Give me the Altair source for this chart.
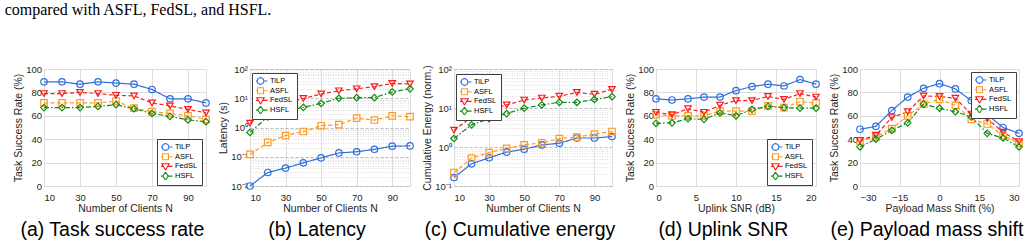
import math
import altair as alt
import pandas as pd

SERIES = ["TiLP", "ASFL", "FedSL", "HSFL"]
COLORS = ["#2f6fdc", "#ff9a1f", "#ff1a1a", "#138a13"]
DASHES = [[1, 0], [4, 2.5], [4, 2.5], [5, 2, 1.5, 2]]
SHAPES = ["circle", "square", "triangle-down", "diamond"]

# (a) Task success rate vs number of clients
clients = [10, 20, 30, 40, 50, 60, 70, 80, 90, 100]
a_tilp = [89, 89, 87, 89, 88, 87, 82.5, 74.5, 74.5, 71]
a_asfl = [71, 71, 71, 71, 72.5, 66.5, 63.5, 62, 60, 57]
a_fedsl = [79, 79, 80, 79, 77.5, 77, 71, 68.5, 65.5, 62.5]
a_hsfl = [67, 67, 67, 68, 69.5, 66, 62, 59.5, 56.5, 55]

# (b) Latency (s)
b_tilp = [0.01, 0.029, 0.041, 0.062, 0.092, 0.135, 0.148, 0.18, 0.23, 0.235]
b_asfl = [0.12, 0.31, 0.53, 0.73, 1.15, 1.25, 2.1, 1.8, 2.5, 2.35]
b_fedsl = [1.4, 4.5, 7.0, 9.8, 14, 18, 21, 25, 32, 31]
b_hsfl = [0.68, 2.3, 3.6, 4.9, 6.7, 10, 10.5, 10.5, 16.5, 21]

# (c) Cumulative energy (norm.)
c_tilp = [0.165, 0.37, 0.53, 0.74, 0.88, 1.13, 1.25, 1.7, 1.7, 1.85]
c_asfl = [0.22, 0.52, 0.72, 0.92, 1.14, 1.27, 1.65, 1.8, 2.15, 2.5]
c_fedsl = [2.7, 5.8, 9.0, 12, 16, 18, 20, 25, 22.5, 30]
c_hsfl = [1.65, 3.7, 5.3, 7.2, 9.9, 12, 14, 14, 16.5, 19.5]

# (d) Uplink SNR (dB)
snr = [0, 2, 4, 6, 8, 10, 12, 14, 16, 18, 20]
d_tilp = [74.5, 73.5, 74.5, 76, 76, 81.5, 85, 87, 85.5, 91, 87]
d_asfl = [61, 60, 60, 60, 64, 64, 64, 68.5, 67, 72, 71]
d_fedsl = [63, 61, 66, 63, 69, 73, 73, 76.5, 74, 79, 76]
d_hsfl = [53.5, 54, 57.5, 57, 62.5, 60, 65.5, 68, 67, 66.5, 66.5]

# (e) Payload mass shift (%)
shift = [-30, -24, -18, -12, -6, 0, 6, 12, 18, 24, 30]
e_tilp = [48.5, 51, 64.5, 76, 83.5, 87.5, 83, 73, 61, 50, 45]
e_asfl = [38.5, 42, 49, 60, 70, 74, 69, 57, 53, 43, 36.5]
e_fedsl = [39, 43.5, 58.5, 63.5, 77, 76.5, 75, 61.5, 57.5, 46, 38]
e_hsfl = [33.5, 40, 47.5, 54, 70, 66.5, 63.5, 59, 45, 41, 33.5]

FONT = "Liberation Sans"
TXT = "#262626"


def circle_path(r, n=24):
    pts = [(r * math.cos(2 * math.pi * k / n), r * math.sin(2 * math.pi * k / n)) for k in range(n)]
    return "M" + "L".join(f"{x:.3f},{y:.3f}" for x, y in pts) + "Z"


def with_line(marker, half):
    return f"M-2,0L{-half},0M{half},0L2,0" + marker


LEG_PATHS = [
    with_line(circle_path(0.95), 0.95),
    with_line("M-0.85,-0.85L0.85,-0.85L0.85,0.85L-0.85,0.85Z", 0.85),
    with_line("M-1.05,-0.75L1.05,-0.75L0,1.05Z", 0.55),
    with_line("M0,-1.1L0.8,0L0,1.1L-0.8,0Z", 0.8),
]

LOG_LABELS = ("datum.value == 100 ? '10²' : datum.value == 10 ? '10¹' : datum.value == 1 ? '10⁰' : "
              "datum.value == 0.1 ? '10⁻¹' : datum.value == 0.01 ? '10⁻²' : ''")
DECADE_TEST = "abs(log(datum.value)/LN10 - round(log(datum.value)/LN10)) < 0.001"

AX = dict(titleFontWeight="normal", titleFont=FONT, titleFontSize=10.5, titleColor=TXT,
          labelFont=FONT, labelFontSize=9.5, labelColor=TXT, domain=False, ticks=False, grid=True)


def make_panel(xs, ys, xdomain, xvalues, xtitle, ytitle, caption, legx, legy, width,
               ylog=False, ydomain=(0, 100)):
    rows = []
    for name, vals in zip(SERIES, ys):
        for xv, yv in zip(xs, vals):
            rows.append({"x": xv, "y": yv, "series": name})
    df = pd.DataFrame(rows)

    xenc = alt.X("x:Q", scale=alt.Scale(domain=list(xdomain), nice=False, zero=False),
                 axis=alt.Axis(values=xvalues, title=xtitle, labelPadding=6, titlePadding=1.5, **AX))
    if ylog:
        lo, hi = ydomain
        vals = []
        e = int(round(math.log10(lo)))
        while 10 ** e <= hi * 1.0001:
            for m in range(1, 10):
                v = m * 10 ** e if e >= 0 else m / 10 ** (-e)
                if v <= hi * 1.0001:
                    vals.append(round(v, 6))
            e += 1
        yaxis = alt.Axis(values=vals, title=ytitle, labelExpr=LOG_LABELS, labelOverlap=False,
                         labelPadding=2.5, titlePadding=2.5,
                         gridDash={"condition": {"test": DECADE_TEST, "value": [3, 2]}, "value": [1, 1.5]},
                         gridColor={"condition": {"test": DECADE_TEST, "value": "#bdbdbd"}, "value": "#dddddd"},
                         **AX)
        yscale = alt.Scale(type="log", domain=list(ydomain), nice=False)
    else:
        yaxis = alt.Axis(values=[0, 20, 40, 60, 80, 100], title=ytitle, labelPadding=2.5,
                         titlePadding=2.5, **AX)
        yscale = alt.Scale(domain=list(ydomain), nice=False, zero=False)
    yenc = alt.Y("y:Q", scale=yscale, axis=yaxis)

    color_nl = alt.Color("series:N", scale=alt.Scale(domain=SERIES, range=COLORS), legend=None)
    base = alt.Chart(df)
    line = base.mark_line(strokeWidth=1.2).encode(
        x=xenc, y=yenc, color=color_nl,
        strokeDash=alt.StrokeDash("series:N", scale=alt.Scale(domain=SERIES, range=DASHES), legend=None),
    )
    pts = base.mark_point(filled=False, size=42, strokeWidth=1.2, opacity=1).encode(
        x=xenc, y=yenc, color=color_nl,
        shape=alt.Shape("series:N", scale=alt.Scale(domain=SERIES, range=SHAPES), legend=None),
    )
    leg = alt.Legend(title=None, orient="none", legendX=legx, legendY=legy,
                     fillColor="white", strokeColor="#404040", padding=4,
                     symbolSize=49, symbolStrokeWidth=1.1, symbolOpacity=1,
                     labelFont=FONT, labelFontSize=7.5, labelColor="black",
                     labelOffset=5, rowPadding=1.7, clipHeight=8, cornerRadius=0)
    legl = base.mark_point(filled=False, opacity=0).encode(
        x=xenc, y=yenc,
        color=alt.Color("series:N", scale=alt.Scale(domain=SERIES, range=COLORS), legend=leg),
        shape=alt.Shape("series:N", scale=alt.Scale(domain=SERIES, range=LEG_PATHS), legend=leg),
    )
    return alt.layer(line, pts, legl).resolve_scale(
        color="independent", shape="independent", strokeDash="independent"
    ).properties(
        width=width, height=117,
        title=alt.TitleParams(caption, orient="bottom", frame="bounds", anchor="middle",
                              font=FONT, fontSize=19.5, fontWeight="normal", color="black", offset=7),
    )


pa = make_panel(clients, [a_tilp, a_asfl, a_fedsl, a_hsfl], (10, 100), [10, 30, 50, 70, 90],
                "Number of Clients N", "Task Success Rate (%)", "(a) Task success rate", 113, 70, 162)
pb = make_panel(clients, [b_tilp, b_asfl, b_fedsl, b_hsfl], (10, 100), [10, 30, 50, 70, 90],
                "Number of Clients N", "Latency (s)", "(b) Latency", 2, 4, 160,
                ylog=True, ydomain=(0.01, 100))
pc = make_panel(clients, [c_tilp, c_asfl, c_fedsl, c_hsfl], (10, 100), [10, 30, 50, 70, 90],
                "Number of Clients N", "Cumulative Energy (norm.)", "(c) Cumulative energy", 2, 5, 158,
                ylog=True, ydomain=(0.1, 100))
pd_ = make_panel(snr, [d_tilp, d_asfl, d_fedsl, d_hsfl], (0, 20), [0, 5, 10, 15, 20],
                 "Uplink SNR (dB)", "Task Success Rate (%)", "(d) Uplink SNR", 111, 70, 160)
pe = make_panel(shift, [e_tilp, e_asfl, e_fedsl, e_hsfl], (-30, 30), [-30, -15, 0, 15, 30],
                "Payload Mass Shift (%)", "Task Success Rate (%)", "(e) Payload mass shift", 111, 3, 159)

chart = alt.hconcat(pa, pb, pc, pd_, pe, spacing=44, bounds="flush").properties(
    title=alt.TitleParams("compared with ASFL, FedSL, and HSFL.", anchor="start", frame="bounds",
                          font="Liberation Serif", fontSize=16, fontWeight="normal", color="black",
                          offset=46, dx=-8),
    padding={"left": 4, "top": 1, "right": 5, "bottom": 0},
).configure_view(stroke=TXT, strokeWidth=0.8).configure_axis(
    gridColor="#bdbdbd", gridDash=[3, 2], gridWidth=0.7, gridOpacity=1,
).configure(background="white")

chart.save("out.html", embed_options={"renderer": "svg", "actions": False})
